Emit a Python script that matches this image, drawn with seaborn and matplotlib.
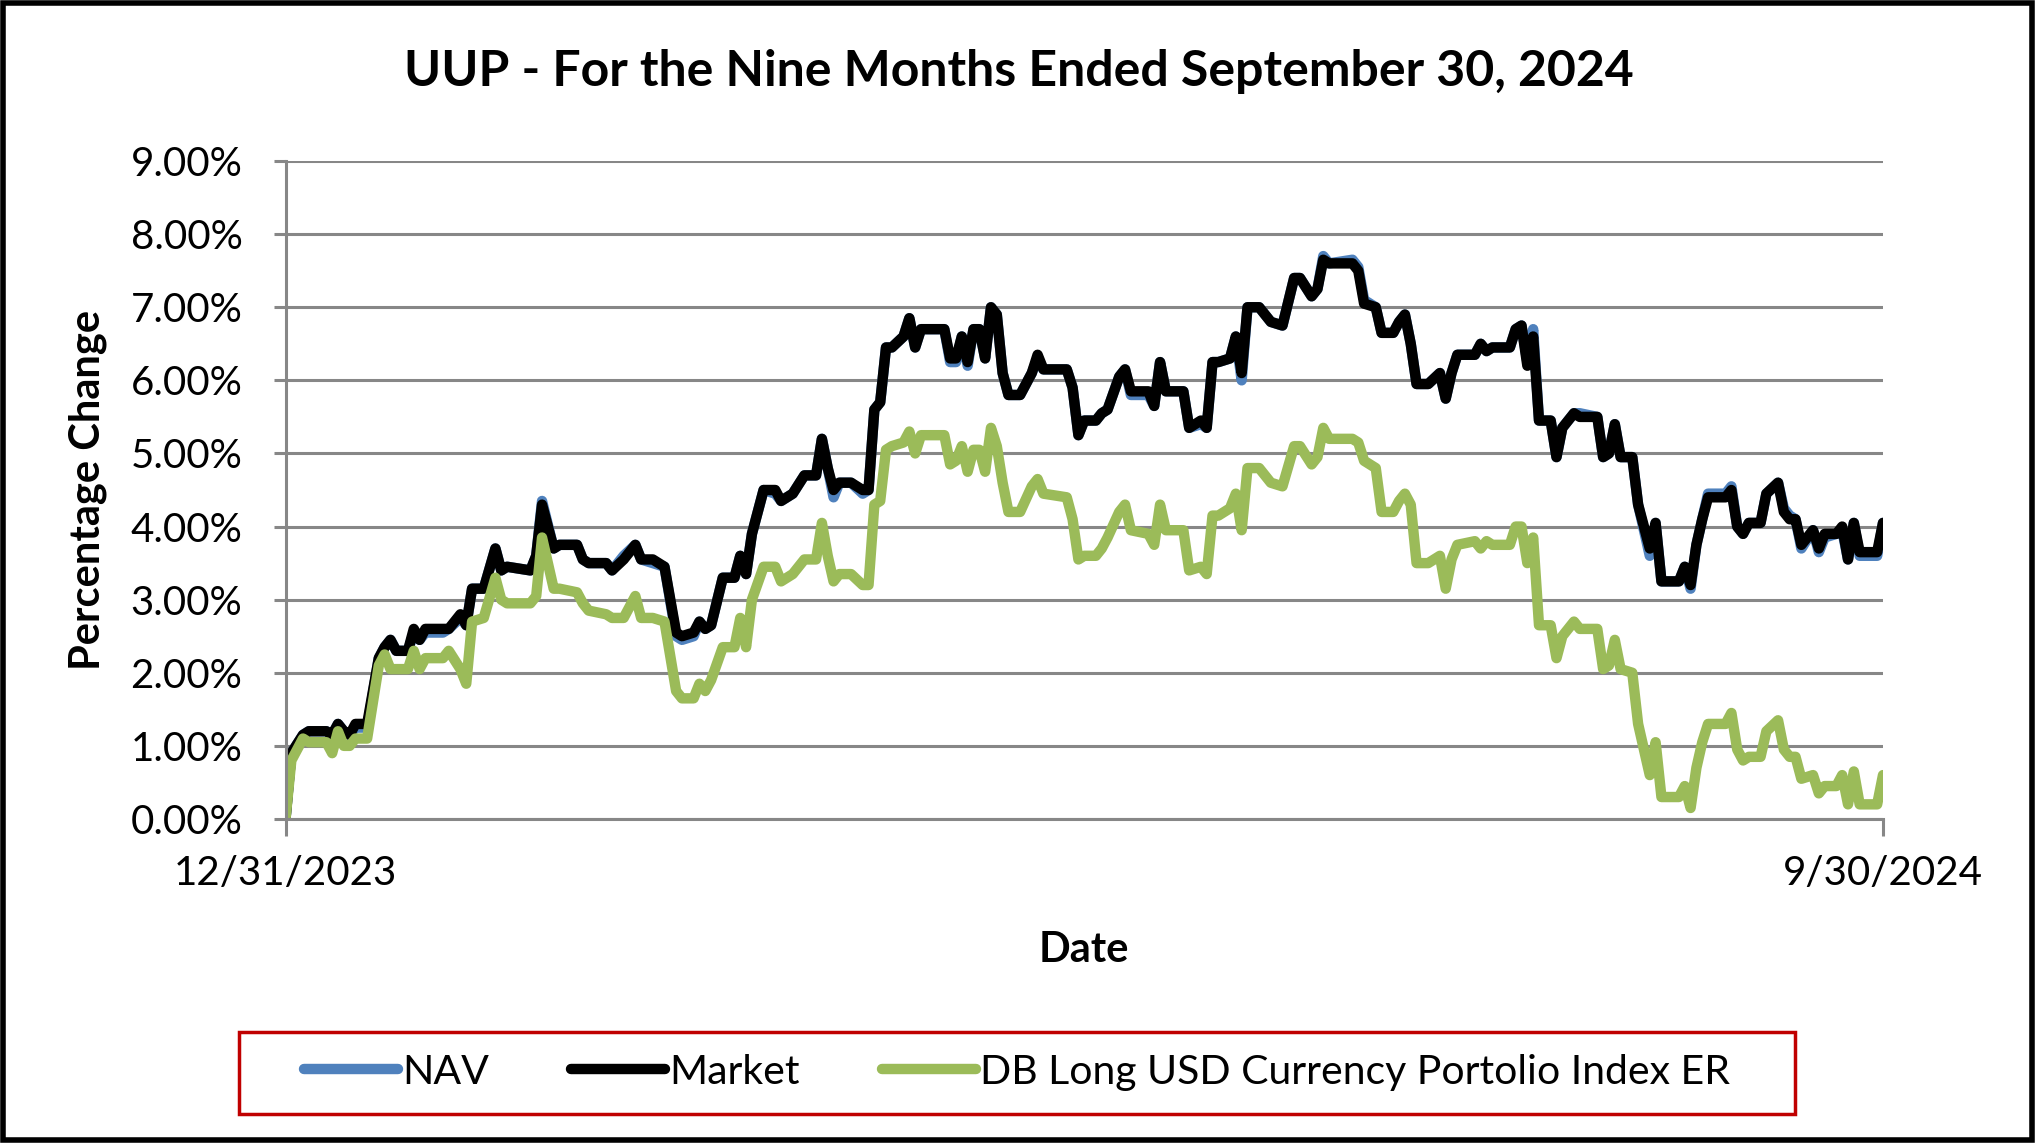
import seaborn as sns
import matplotlib.pyplot as plt
import matplotlib.ticker as mticker
from matplotlib.lines import Line2D
from matplotlib.patches import Rectangle
import pandas as pd

# days since 12/31/2023
days = [0, 1, 3, 4, 7, 8, 9, 10, 11, 12, 14, 16, 17, 18, 19, 21, 22, 23, 24, 27,
        28, 30, 31, 32, 34, 36, 37, 38, 42, 43, 44, 46, 47, 50, 51, 52, 55, 56, 58, 60,
        61, 63, 65, 67, 68, 70, 71, 72, 73, 75, 77, 78, 79, 80, 82, 84, 85, 87, 89, 91,
        92, 93, 94, 95, 97, 99, 100, 101, 102, 103, 104, 106, 107, 108, 109, 113, 114, 115, 116, 117,
        118, 119, 120, 121, 122, 123, 124, 126, 128, 129, 130, 134, 135, 136, 137, 139, 140, 141, 143, 144,
        145, 148, 149, 150, 151, 154, 155, 157, 158, 159, 160, 162, 163, 164, 165, 167, 169, 171, 173, 174,
        176, 177, 178, 179, 183, 184, 185, 187, 188, 190, 191, 192, 193, 194, 196, 198, 199, 200, 201, 204,
        205, 206, 207, 210, 211, 212, 213, 214, 215, 217, 218, 219, 221, 222, 225, 226, 227, 228, 229, 231,
        232, 234, 235, 236, 239, 240, 241, 242, 243, 244, 247, 248, 249, 250, 251, 253, 254, 256, 257, 258,
        259, 260, 262, 263, 264, 266, 267, 268, 269, 270, 273, 274]

market = [0, 0.9, 1.15, 1.2, 1.2, 1.15, 1.3, 1.2, 1.15, 1.3, 1.3, 2.2, 2.35, 2.45, 2.3, 2.3, 2.6, 2.45, 2.6, 2.6,
          2.6, 2.8, 2.65, 3.15, 3.15, 3.7, 3.4, 3.45, 3.4, 3.6, 4.3, 3.7, 3.75, 3.75, 3.55, 3.5, 3.5, 3.4, 3.55, 3.75,
          3.55, 3.55, 3.45, 2.55, 2.5, 2.55, 2.7, 2.6, 2.65, 3.3, 3.3, 3.6, 3.35, 3.9, 4.5, 4.5, 4.35, 4.45, 4.7, 4.7,
          5.2, 4.8, 4.5, 4.6, 4.6, 4.5, 4.5, 5.6, 5.7, 6.45, 6.45, 6.6, 6.85, 6.45, 6.7, 6.7, 6.3, 6.3, 6.6, 6.25,
          6.7, 6.7, 6.3, 7.0, 6.9, 6.1, 5.8, 5.8, 6.1, 6.35, 6.15, 6.15, 5.9, 5.25, 5.45, 5.45, 5.55, 5.6, 6.05, 6.15,
          5.85, 5.85, 5.65, 6.25, 5.85, 5.85, 5.35, 5.45, 5.35, 6.25, 6.25, 6.3, 6.6, 6.1, 7.0, 7.0, 6.8, 6.75, 7.4, 7.4,
          7.15, 7.25, 7.65, 7.6, 7.6, 7.5, 7.05, 7.0, 6.65, 6.65, 6.8, 6.9, 6.5, 5.95, 5.95, 6.1, 5.75, 6.1, 6.35, 6.35,
          6.5, 6.4, 6.45, 6.45, 6.7, 6.75, 6.2, 6.6, 5.45, 5.45, 4.95, 5.35, 5.55, 5.5, 5.5, 4.95, 5.0, 5.4, 4.95, 4.95,
          4.3, 3.7, 4.05, 3.25, 3.25, 3.45, 3.2, 3.75, 4.1, 4.4, 4.4, 4.5, 4.0, 3.9, 4.05, 4.05, 4.45, 4.6, 4.2, 4.1,
          4.1, 3.75, 3.95, 3.7, 3.9, 3.9, 4.0, 3.55, 4.05, 3.65, 3.65, 4.05]

nav = [0, 0.9, 1.15, 1.2, 1.2, 1.15, 1.3, 1.2, 1.15, 1.25, 1.25, 2.2, 2.35, 2.45, 2.3, 2.3, 2.55, 2.45, 2.55, 2.55,
       2.6, 2.75, 2.65, 3.15, 3.15, 3.7, 3.4, 3.45, 3.4, 3.6, 4.35, 3.7, 3.75, 3.75, 3.55, 3.5, 3.5, 3.4, 3.6, 3.75,
       3.55, 3.5, 3.45, 2.5, 2.45, 2.5, 2.7, 2.6, 2.65, 3.3, 3.3, 3.6, 3.35, 3.9, 4.5, 4.45, 4.35, 4.45, 4.7, 4.7,
       5.2, 4.8, 4.4, 4.6, 4.6, 4.45, 4.5, 5.6, 5.7, 6.45, 6.45, 6.6, 6.85, 6.45, 6.7, 6.7, 6.25, 6.25, 6.6, 6.2,
       6.7, 6.7, 6.3, 7.0, 6.9, 6.1, 5.8, 5.8, 6.1, 6.3, 6.15, 6.15, 5.9, 5.25, 5.45, 5.45, 5.55, 5.6, 6.05, 6.15,
       5.8, 5.8, 5.65, 6.25, 5.85, 5.85, 5.35, 5.4, 5.35, 6.25, 6.25, 6.3, 6.6, 6.0, 7.0, 7.0, 6.8, 6.75, 7.4, 7.4,
       7.15, 7.25, 7.7, 7.6, 7.65, 7.55, 7.1, 7.0, 6.65, 6.65, 6.8, 6.9, 6.5, 5.95, 5.95, 6.1, 5.75, 6.1, 6.35, 6.35,
       6.5, 6.4, 6.45, 6.45, 6.7, 6.75, 6.25, 6.7, 5.45, 5.45, 4.95, 5.35, 5.55, 5.55, 5.5, 4.95, 5.0, 5.4, 4.95, 4.95,
       4.3, 3.6, 4.05, 3.25, 3.25, 3.45, 3.15, 3.75, 4.1, 4.45, 4.45, 4.55, 4.0, 3.9, 4.05, 4.05, 4.45, 4.6, 4.25, 4.15,
       4.1, 3.7, 3.95, 3.65, 3.85, 3.9, 3.95, 3.55, 4.05, 3.6, 3.6, 4.05]

index_er = [0, 0.8, 1.1, 1.05, 1.05, 0.9, 1.2, 1.0, 1.0, 1.1, 1.1, 2.1, 2.25, 2.05, 2.05, 2.05, 2.3, 2.05, 2.2, 2.2,
            2.3, 2.05, 1.85, 2.7, 2.75, 3.3, 3.0, 2.95, 2.95, 3.05, 3.85, 3.15, 3.15, 3.1, 2.95, 2.85, 2.8, 2.75, 2.75, 3.05,
            2.75, 2.75, 2.7, 1.75, 1.65, 1.65, 1.85, 1.75, 1.9, 2.35, 2.35, 2.75, 2.35, 3.0, 3.45, 3.45, 3.25, 3.35, 3.55, 3.55,
            4.05, 3.6, 3.25, 3.35, 3.35, 3.2, 3.2, 4.3, 4.35, 5.05, 5.1, 5.15, 5.3, 5.0, 5.25, 5.25, 4.85, 4.9, 5.1, 4.75,
            5.05, 5.05, 4.75, 5.35, 5.1, 4.6, 4.2, 4.2, 4.55, 4.65, 4.45, 4.4, 4.1, 3.55, 3.6, 3.6, 3.7, 3.85, 4.2, 4.3,
            3.95, 3.9, 3.75, 4.3, 3.95, 3.95, 3.4, 3.45, 3.35, 4.15, 4.15, 4.25, 4.45, 3.95, 4.8, 4.8, 4.6, 4.55, 5.1, 5.1,
            4.85, 4.95, 5.35, 5.2, 5.2, 5.15, 4.9, 4.8, 4.2, 4.2, 4.35, 4.45, 4.3, 3.5, 3.5, 3.6, 3.15, 3.55, 3.75, 3.8,
            3.7, 3.8, 3.75, 3.75, 4.0, 4.0, 3.5, 3.85, 2.65, 2.65, 2.2, 2.5, 2.7, 2.6, 2.6, 2.05, 2.1, 2.45, 2.05, 2.0,
            1.3, 0.6, 1.05, 0.3, 0.3, 0.45, 0.15, 0.7, 1.05, 1.3, 1.3, 1.45, 0.95, 0.8, 0.85, 0.85, 1.2, 1.35, 0.95, 0.85,
            0.85, 0.55, 0.6, 0.35, 0.45, 0.45, 0.6, 0.2, 0.65, 0.2, 0.2, 0.6]

series_names = ["NAV", "Market", "DB Long USD Currency Portolio Index ER"]
colors = ["#4F81BD", "#000000", "#9BBB59"]
y_ticks = [0, 1, 2, 3, 4, 5, 6, 7, 8, 9]
start_date = pd.Timestamp("2023-12-31")
end_date = pd.Timestamp("2024-09-30")

dates = start_date + pd.to_timedelta(days, unit="D")
frames = []
for name, vals in zip(series_names, [nav, market, index_er]):
    frames.append(pd.DataFrame({"Date": dates, "Value": vals, "Series": name}))
df = pd.concat(frames, ignore_index=True)

sns.set_style("white")
plt.rcParams["font.family"] = ["Lato", "DejaVu Sans"]
for k in ["text.color", "axes.labelcolor", "xtick.labelcolor", "ytick.labelcolor"]:
    plt.rcParams[k] = "black"

fig = plt.figure(figsize=(20.35, 11.43), dpi=100)
ax = fig.add_axes([0.1403, 0.2835, 0.785, 0.5756])

sns.lineplot(data=df, x="Date", y="Value", hue="Series", hue_order=series_names,
             palette=dict(zip(series_names, colors)), linewidth=7.5, ax=ax,
             legend=False, estimator=None, sort=False)

ax.set_xlim(start_date, end_date)
ax.set_ylim(0, 9)
ax.set_yticks(y_ticks)
ax.yaxis.set_major_formatter(mticker.FuncFormatter(lambda v, p: f"{v:.2f}%"))
ax.set_xticks([start_date, end_date])
ax.set_xticklabels(["12/31/2023", "9/30/2024"])
ax.grid(axis="y", color="#878787", linewidth=2.2)
ax.set_axisbelow(True)
for s in ["top", "right"]:
    ax.spines[s].set_visible(False)
for s in ["left", "bottom"]:
    ax.spines[s].set_color("#878787")
    ax.spines[s].set_linewidth(2.2)
ax.tick_params(axis="y", left=True, length=9, width=2.2, color="#878787", labelsize=29, pad=22)
ax.tick_params(axis="x", bottom=True, length=12, width=2.2, color="#878787", labelsize=29, pad=14)

ax.set_xlabel("Date", fontsize=30, fontweight="bold")
ax.xaxis.set_label_coords(0.4997, -0.171)
ax.set_ylabel("Percentage Change", fontsize=30, fontweight="bold")
ax.yaxis.set_label_coords(-0.112, 0.5)
fig.suptitle("UUP - For the Nine Months Ended September 30, 2024", fontsize=36,
             fontweight="bold", x=0.5006, y=0.9375, va="center")

handles = [Line2D([0], [0], color=c, linewidth=7.5) for c in colors]
fig.legend(handles, series_names, loc="center", bbox_to_anchor=(0.4997, 0.0619),
           ncol=3, fontsize=29.5, frameon=False, handlelength=2.3,
           handletextpad=0.1, columnspacing=2.0)
fig.patches.append(Rectangle((0.1173, 0.0258), 0.765, 0.0715, transform=fig.transFigure,
                             fill=False, edgecolor="#C00000", linewidth=2.5))

fig.patches.append(Rectangle((0.0015, 0.0025), 0.997, 0.995, transform=fig.transFigure,
                             fill=False, edgecolor="black", linewidth=4))

fig.savefig("out.png", dpi=100)
